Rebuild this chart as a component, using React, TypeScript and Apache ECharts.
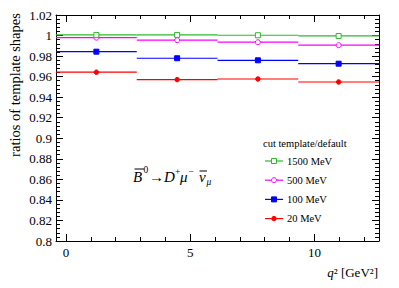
import React, { useEffect, useRef } from "react";
import * as echarts from "echarts";

// ---- data ----
const binLow = [-0.4, 2.85, 6.1, 9.35];
const binHigh = [2.85, 6.1, 9.35, 12.6];
const cutNames = ["1500 MeV", "500 MeV", "100 MeV", "20 MeV"];
const ratio1500 = [1.0006, 1.0006, 1.0003, 0.9996];
const ratio500 = [0.998, 0.9955, 0.9935, 0.9906];
const ratio100 = [0.9843, 0.9779, 0.9759, 0.9726];
const ratio20 = [0.9643, 0.9571, 0.9577, 0.9548];
const xLabelValues = [0, 5, 10];
const xMinorValues = [0, 1, 2, 3, 4, 5, 6, 7, 8, 9, 10, 11, 12];

const seriesStyles = [
  { color: "#2db82d", symbol: "square", filled: false, size: 5 },
  { color: "#ff00ff", symbol: "circle", filled: false, size: 5 },
  { color: "#0000ff", symbol: "square", filled: true, size: 5 },
  { color: "#ff0000", symbol: "circle", filled: true, size: 4.5 },
];
const seriesValues = [ratio1500, ratio500, ratio100, ratio20];

const FONT = "'Liberation Serif', 'Times New Roman', serif";

function markerShape(st: any, x: number, y: number) {
  const style = st.filled
    ? { fill: st.color, stroke: st.color, lineWidth: 1 }
    : { fill: "#ffffff", stroke: st.color, lineWidth: 1 };
  if (st.symbol === "square") {
    return {
      type: "rect",
      shape: { x: x - st.size / 2, y: y - st.size / 2, width: st.size, height: st.size },
      style,
    };
  }
  return { type: "circle", shape: { cx: x, cy: y, r: st.size / 2 }, style };
}

export default function App() {
  const ref = useRef<HTMLDivElement>(null);
  useEffect(() => {
    document.body.style.margin = "0";
    if (!ref.current) return;
    const chart = echarts.init(ref.current, null, { renderer: "svg" });

    const series: any[] = [];
    for (let s = seriesValues.length - 1; s >= 0; s--) {
      const st = seriesStyles[s];
      const data = seriesValues[s].map((v, i) => [binLow[i], binHigh[i], (binLow[i] + binHigh[i]) / 2, v]);
      series.push({
        type: "custom",
        name: cutNames[s],
        data,
        encode: { x: [0, 1, 2], y: 3 },
        clip: false,
        renderItem: (params: any, api: any) => {
          const v = api.value(3);
          const p1 = api.coord([api.value(0), v]);
          const p2 = api.coord([api.value(1), v]);
          const pc = api.coord([api.value(2), v]);
          return {
            type: "group",
            children: [
              {
                type: "line",
                shape: { x1: p1[0], y1: p1[1], x2: p2[0], y2: p2[1] },
                style: { stroke: st.color, lineWidth: 1.2 },
              },
              markerShape(st, pc[0], pc[1]),
            ],
          };
        },
      });
    }

    // legend built from series
    const legendX = 265;
    const legendY0 = 161;
    const legendDy = 19.2;
    const legendChildren: any[] = [
      {
        type: "text",
        x: 263,
        y: 143,
        style: { text: "cut template/default", font: `10.5px ${FONT}`, fill: "#000", verticalAlign: "middle" },
      },
    ];
    cutNames.forEach((name, i) => {
      const st = seriesStyles[i];
      const y = legendY0 + i * legendDy;
      legendChildren.push({
        type: "line",
        shape: { x1: legendX, y1: y, x2: legendX + 18, y2: y },
        style: { stroke: st.color, lineWidth: 1.2 },
      });
      legendChildren.push(markerShape(st, legendX + 9, y));
      legendChildren.push({
        type: "text",
        x: 287,
        y: y,
        style: { text: name, font: `10.5px ${FONT}`, fill: "#000", verticalAlign: "middle" },
      });
    });

    // decay annotation
    const ax = 133;
    const ay = 181;
    const big = 15;
    const sm = 9.5;
    const it = (t: string, x: number, y: number, size: number, italic: boolean) => ({
      type: "text",
      x: ax + x,
      y: ay + y,
      style: {
        text: t,
        font: `${italic ? "italic " : ""}${size}px ${FONT}`,
        fill: "#000",
        verticalAlign: "bottom",
      },
    });
    const annotation: any[] = [
      it("B", 0, 3, big, true),
      { type: "line", shape: { x1: ax + 1.5, y1: ay - 12, x2: ax + 11, y2: ay - 12 }, style: { stroke: "#000", lineWidth: 1 } },
      it("0", 10.5, -6, sm, false),
      it("\u2192", 16, 3, big, false),
      it("D", 31, 3, big, true),
      it("+", 42, -4.5, sm, false),
      it("\u03bc", 47, 3, big, true),
      it("\u2212", 55.5, -4.5, sm, false),
      it("\u03bd", 66, 3, big, true),
      { type: "line", shape: { x1: ax + 66.5, y1: ay - 10, x2: ax + 74, y2: ay - 10 }, style: { stroke: "#000", lineWidth: 1 } },
      it("\u03bc", 73.5, 6, sm, true),
    ];

    const yLabelFmt = (v: number) => String(parseFloat(v.toFixed(3)));

    chart.setOption({
      animation: false,
      backgroundColor: "#ffffff",
      textStyle: { fontFamily: FONT },
      grid: { left: 56, top: 15, right: 20, bottom: 47, containLabel: false },
      xAxis: [
        {
          type: "value",
          min: -0.4,
          max: 12.6,
          position: "bottom",
          axisLine: { show: true, onZero: false, lineStyle: { color: "#000", width: 1 } },
          axisTick: { show: true, inside: true, length: 7, customValues: xLabelValues, lineStyle: { color: "#000" } },
          axisLabel: { show: true, customValues: xLabelValues, margin: 5, fontFamily: FONT, fontSize: 13, color: "#000" },
          splitLine: { show: false },
        },
        {
          type: "value",
          min: -0.4,
          max: 12.6,
          position: "bottom",
          axisLine: { show: false, onZero: false },
          axisTick: { show: true, inside: true, length: 4, customValues: xMinorValues, lineStyle: { color: "#000" } },
          axisLabel: { show: false },
          splitLine: { show: false },
        },
        {
          type: "value",
          min: -0.4,
          max: 12.6,
          position: "top",
          axisLine: { show: true, onZero: false, lineStyle: { color: "#000", width: 1 } },
          axisTick: { show: true, inside: true, length: 7, customValues: xLabelValues, lineStyle: { color: "#000" } },
          axisLabel: { show: false },
          splitLine: { show: false },
        },
        {
          type: "value",
          min: -0.4,
          max: 12.6,
          position: "top",
          axisLine: { show: false, onZero: false },
          axisTick: { show: true, inside: true, length: 4, customValues: xMinorValues, lineStyle: { color: "#000" } },
          axisLabel: { show: false },
          splitLine: { show: false },
        },
      ],
      yAxis: [
        {
          type: "value",
          min: 0.8,
          max: 1.02,
          interval: 0.02,
          position: "left",
          axisLine: { show: true, onZero: false, lineStyle: { color: "#000", width: 1 } },
          axisTick: { show: true, inside: true, length: 7, lineStyle: { color: "#000" } },
          minorTick: { show: true, splitNumber: 5, length: 4, lineStyle: { color: "#000" } },
          axisLabel: { show: true, margin: 4, fontFamily: FONT, fontSize: 13, color: "#000", formatter: yLabelFmt },
          splitLine: { show: false },
          minorSplitLine: { show: false },
        },
        {
          type: "value",
          min: 0.8,
          max: 1.02,
          interval: 0.02,
          position: "right",
          axisLine: { show: true, onZero: false, lineStyle: { color: "#000", width: 1 } },
          axisTick: { show: true, inside: true, length: 7, lineStyle: { color: "#000" } },
          minorTick: { show: true, splitNumber: 5, length: 4, lineStyle: { color: "#000" } },
          axisLabel: { show: false },
          splitLine: { show: false },
          minorSplitLine: { show: false },
        },
      ],
      graphic: [
        {
          type: "text",
          x: 15,
          y: 85,
          rotation: Math.PI / 2,
          style: {
            text: "ratios of template shapes",
            font: `14.5px ${FONT}`,
            fill: "#000",
            align: "center",
            verticalAlign: "middle",
          },
        },
        {
          type: "text",
          x: 378,
          y: 272,
          style: {
            text: "{i|q}{n|\u00b2 [GeV\u00b2]}",
            align: "right",
            verticalAlign: "middle",
            rich: {
              i: { fontFamily: FONT, fontSize: 13, fontStyle: "italic", fill: "#000" },
              n: { fontFamily: FONT, fontSize: 13, fill: "#000" },
            },
          },
        },
        ...legendChildren,
        ...annotation,
      ],
      series,
    });
    return () => chart.dispose();
  }, []);
  return <div ref={ref} style={{ width: 399, height: 288 }} />;
}
